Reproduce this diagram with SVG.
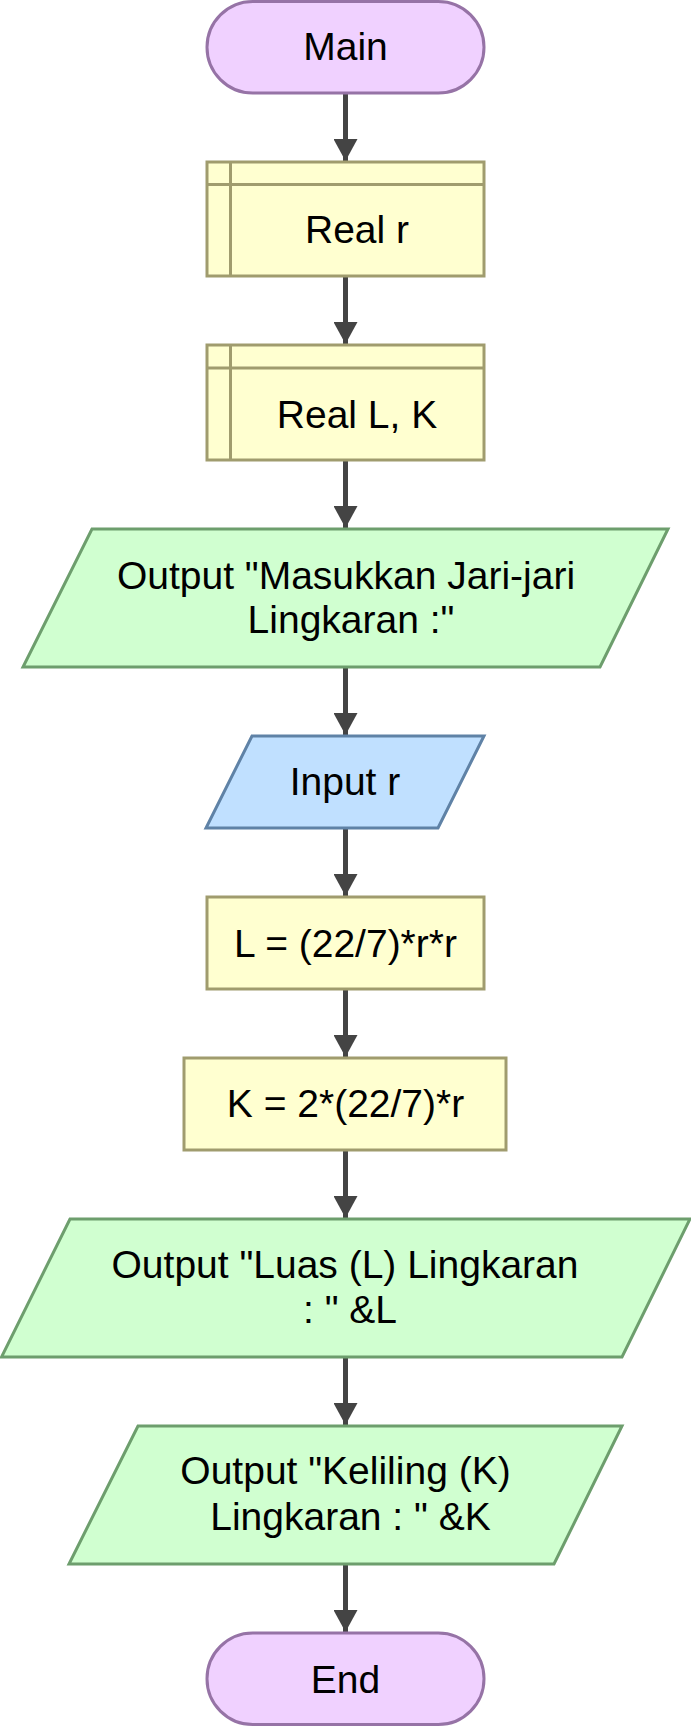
<svg xmlns="http://www.w3.org/2000/svg" width="691" height="1726" viewBox="0 0 691 1726">
<style>
  .t{font-family:"Liberation Sans",Arial,sans-serif;font-size:39px;fill:#000;text-anchor:middle}
  .term{fill:#f0d1ff;stroke:#9673a6;stroke-width:3}
  .proc{fill:#ffffd0;stroke:#a09c6e;stroke-width:3}
  .out{fill:#d0ffd0;stroke:#6d9e6d;stroke-width:3}
  .inp{fill:#c0e0ff;stroke:#5f82a6;stroke-width:3}
  .edge{stroke:#444;stroke-width:5;fill:none}
</style>
<defs>
  <marker id="ah" markerUnits="userSpaceOnUse" markerWidth="26" markerHeight="24" refX="22" refY="12" orient="auto">
    <path d="M0,0 L22,12 L0,24 Z" fill="#444"/>
  </marker>
</defs>
<rect width="691" height="1726" fill="#fff"/>
<g id="connectors">
  <line class="edge" x1="345.5" y1="93" x2="345.5" y2="161" marker-end="url(#ah)"/>
  <line class="edge" x1="345.5" y1="276" x2="345.5" y2="344" marker-end="url(#ah)"/>
  <line class="edge" x1="345.5" y1="460" x2="345.5" y2="528" marker-end="url(#ah)"/>
  <line class="edge" x1="345.5" y1="667" x2="345.5" y2="735" marker-end="url(#ah)"/>
  <line class="edge" x1="345.5" y1="828" x2="345.5" y2="896" marker-end="url(#ah)"/>
  <line class="edge" x1="345.5" y1="989" x2="345.5" y2="1057" marker-end="url(#ah)"/>
  <line class="edge" x1="345.5" y1="1150" x2="345.5" y2="1218" marker-end="url(#ah)"/>
  <line class="edge" x1="345.5" y1="1357" x2="345.5" y2="1425" marker-end="url(#ah)"/>
  <line class="edge" x1="345.5" y1="1564" x2="345.5" y2="1632" marker-end="url(#ah)"/>
</g>
<g id="main">
  <rect class="term" x="207" y="1.5" width="277" height="91.5" rx="45.75"/>
  <text class="t" x="345.5" y="60">Main</text>
</g>
<g id="real-r">
  <rect class="proc" x="207" y="162" width="277" height="114"/>
  <line class="proc" x1="207" y1="184.5" x2="484" y2="184.5"/>
  <line class="proc" x1="230.5" y1="162" x2="230.5" y2="276"/>
  <text class="t" x="357" y="243">Real r</text>
</g>
<g id="real-lk">
  <rect class="proc" x="207" y="345" width="277" height="115"/>
  <line class="proc" x1="207" y1="368" x2="484" y2="368"/>
  <line class="proc" x1="230.5" y1="345" x2="230.5" y2="460"/>
  <text class="t" x="357" y="428">Real L, K</text>
</g>
<g id="output-masukkan">
  <polygon class="out" points="92,529 668,529 600,667 23,667"/>
  <text class="t" x="346" y="589">Output "Masukkan Jari-jari</text>
  <text class="t" x="351" y="633">Lingkaran :"</text>
</g>
<g id="input-r">
  <polygon class="inp" points="252,736 484,736 438,828 206,828"/>
  <text class="t" x="345" y="795">Input r</text>
</g>
<g id="calc-l">
  <rect class="proc" x="207" y="897" width="277" height="92"/>
  <text class="t" x="345.5" y="957">L = (22/7)*r*r</text>
</g>
<g id="calc-k">
  <rect class="proc" x="184" y="1058" width="322" height="92"/>
  <text class="t" x="345.5" y="1117">K = 2*(22/7)*r</text>
</g>
<g id="output-luas">
  <polygon class="out" points="70,1219 690,1219 622,1357 1.5,1357"/>
  <text class="t" x="345" y="1278">Output "Luas (L) Lingkaran</text>
  <text class="t" x="350" y="1323">: " &amp;L</text>
</g>
<g id="output-keliling">
  <polygon class="out" points="138,1426 622,1426 554,1564 69,1564"/>
  <text class="t" x="345.5" y="1484">Output "Keliling (K)</text>
  <text class="t" x="350.5" y="1530">Lingkaran : " &amp;K</text>
</g>
<g id="end">
  <rect class="term" x="207" y="1633" width="277" height="91.5" rx="45.75"/>
  <text class="t" x="345.5" y="1693">End</text>
</g>
</svg>
